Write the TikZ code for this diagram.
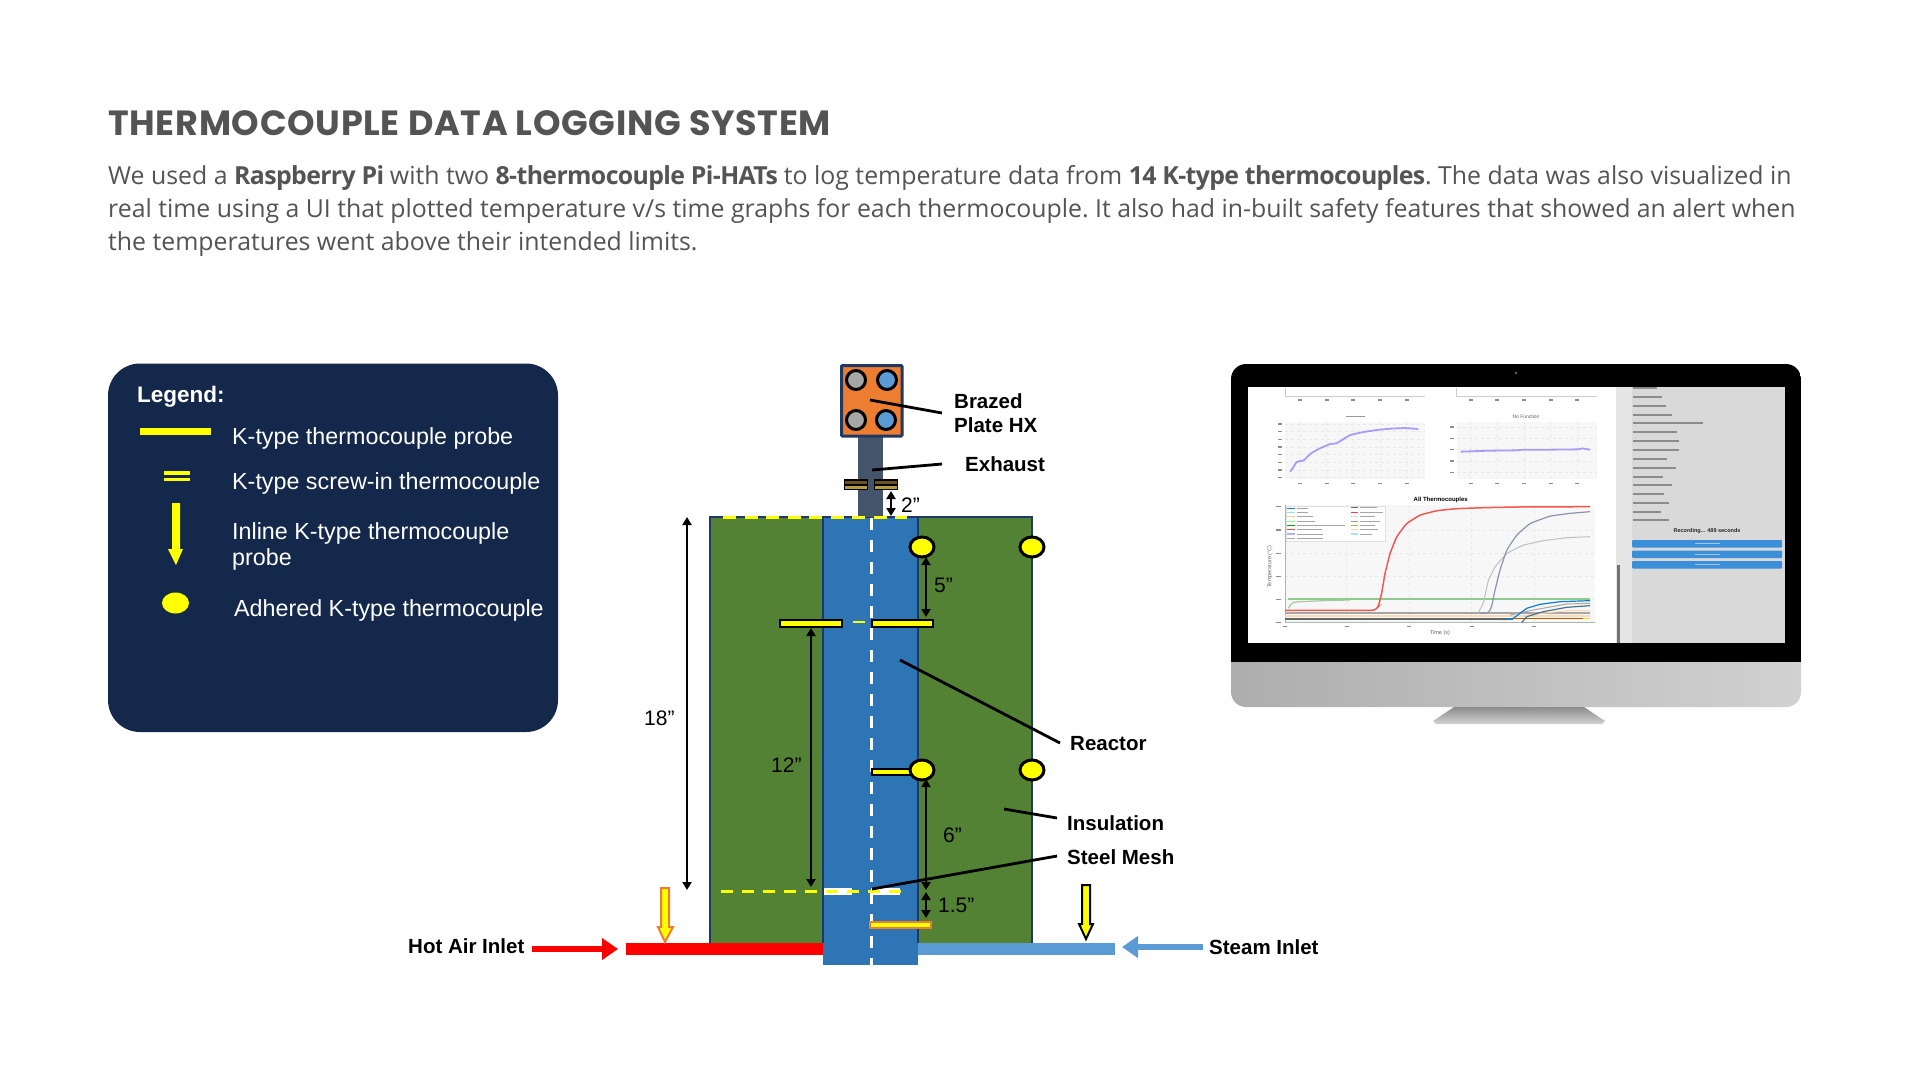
\documentclass[tikz,border=0pt]{standalone}
\usepackage{fontspec}
\usetikzlibrary{arrows.meta}
\setmainfont{Liberation Sans}
\newfontfamily\bodyfont[BoldFeatures={LetterSpace=-2.5}]{Open Sans}
\newfontfamily\titlefont[LetterSpace=2]{Poppins}
\definecolor{ink}{HTML}{545454}
\definecolor{navy}{HTML}{14284B}
\definecolor{rim}{HTML}{1F3864}
\definecolor{insul}{HTML}{548235}
\definecolor{core}{HTML}{2E75B6}
\definecolor{sky}{HTML}{5B9BD5}
\definecolor{hxorange}{HTML}{ED7D31}
\definecolor{stack}{HTML}{44546A}
\definecolor{tcy}{HTML}{FFFF00}
\definecolor{plotline}{HTML}{A89CF5}
\definecolor{btn}{HTML}{3A8FD8}
\definecolor{steelcurve}{HTML}{8F90B4}
\definecolor{redcurve}{HTML}{EE5A52}
\tikzset{
  lbl/.style={anchor=base west,inner sep=0pt,font=\fontsize{20.5}{24}\selectfont\bfseries,text=black},
  dimtext/.style={anchor=base west,inner sep=0pt,font=\fontsize{21}{24}\selectfont,text=black},
  legtext/.style={anchor=base west,inner sep=0pt,font=\fontsize{23.3}{28}\selectfont,text=white},
  bodyline/.style={anchor=base west,inner sep=0pt,font=\bodyfont\frenchspacing\fontsize{24.85}{30}\selectfont,text=ink},
  leader/.style={draw=black,line width=2.8pt},
  dimarrow/.style={draw=black,line width=2.6pt,{Triangle[length=8pt,width=9pt]}-{Triangle[length=8pt,width=9pt]}},
  probe/.style={draw=black,line width=2pt,fill=tcy},
  adhered/.style={draw=black,line width=3pt,fill=tcy},
  port/.style={draw=black,line width=3pt},
  blurtext/.style={draw=black!55,line width=1.7pt,opacity=.75},
  tinytext/.style={inner sep=0pt,text=black!60},
  gridline/.style={draw=black!9,line width=.5pt,dashed},
  ticktext/.style={draw=black!45,line width=1.1pt}
}
\begin{document}
\begin{tikzpicture}[x=1pt,y=-1pt]
\useasboundingbox (0,0) rectangle (1920,1080);
\fill[white] (0,0) rectangle (1920,1080);

% heading
\node[anchor=base west,inner sep=0pt,text=ink,font=\titlefont\bfseries\fontsize{35}{40}\selectfont] (title) at (108,135) {THERMOCOUPLE DATA LOGGING SYSTEM};
\node[bodyline] (b1) at (108,184) {We used a \textbf{Raspberry Pi} with two \textbf{8-thermocouple Pi-HATs} to log temperature data from \textbf{14 K-type thermocouples}. The data was also visualized in};
\node[bodyline] (b2) at (108,217) {real time using a UI that plotted temperature v/s time graphs for each thermocouple. It also had in-built safety features that showed an alert when};
\node[bodyline] (b3) at (108,250) {the temperatures went above their intended limits.};

% legend
\fill[navy,rounded corners=32pt] (108,363.5) rectangle (558,732);
\node[legtext,font=\fontsize{22.5}{26}\selectfont\bfseries] (legh) at (137,402) {Legend:};
\node[legtext] (l1) at (232,444) {K-type thermocouple probe};
\node[legtext] (l2) at (232,489) {K-type screw-in thermocouple};
\node[legtext] (l3) at (232,539) {Inline K-type thermocouple};
\node[legtext] (l3b) at (232,565) {probe};
\node[legtext] (l4) at (234,616) {Adhered K-type thermocouple};
\fill[tcy] (139.5,428) rectangle (211,434.5);
\fill[tcy] (164,470.5) rectangle (190,475);
\fill[tcy] (164,477.5) rectangle (190,481);
\fill[tcy] (172,503) -- (180,503) -- (180,549) -- (183,549) -- (176,565) -- (168,549) -- (172,549) -- cycle;
\fill[tcy] (175.5,603) ellipse [x radius=13.5,y radius=10.5];

% reactor body
\fill[insul] (710,517) rectangle (823,943);
\fill[insul] (918,517) rectangle (1032,943);
\fill[red] (626,943) rectangle (823,955);
\fill[sky] (918,943) rectangle (1115,955);
\fill[core] (823,517) rectangle (918,965);
\draw[rim,line width=2.5pt] (710,943) -- (710,517) -- (1032,517) -- (1032,943);
\draw[rim,line width=2.5pt] (823,517) -- (823,943);
\draw[rim,line width=2.5pt] (918,517) -- (918,943);
\draw[white,line width=3pt,dash pattern=on 12pt off 10pt] (871,518) -- (871,965);

% exhaust and heat exchanger
\fill[stack] (858,437) rectangle (883,517);
\draw[rim,line width=3pt,fill=hxorange,rounded corners=1pt] (841.5,365.5) rectangle (902,436);
\draw[port,fill=black!35] (856,380) circle (9.5);
\draw[port,fill=sky] (887,380) circle (9.5);
\draw[port,fill=black!35] (856,420) circle (9.5);
\draw[port,fill=sky] (886,420) circle (9.5);

% screw-in thermocouples
\definecolor{screwa}{HTML}{6B5320}
\definecolor{screwb}{HTML}{B89B3A}
\foreach \xa/\xb in {845/867,875/897}{
  \fill[black] (\xa-1,479) rectangle (\xb+1,490);
  \fill[screwa] (\xa,480.5) rectangle (\xb,483.5);
  \fill[screwb] (\xa,486) rectangle (\xb,488.5);
}
% top dashed thermocouple line
\draw[tcy,line width=3pt,dash pattern=on 13pt off 8.5pt] (723,517) -- (907,517);

% probes
\draw[probe] (780,619.5) rectangle (842,626.5);
\draw[tcy,line width=2.5pt] (853,622) -- (865,622);
\draw[probe] (871.5,619.5) rectangle (933,626.5);
\draw[probe] (871.5,768.5) rectangle (915,775);
\draw[draw=hxorange,line width=2pt,fill=tcy] (869.5,921.5) rectangle (930.5,927.5);
% steel mesh
\fill[white] (824,888) rectangle (852,895);
\fill[white] (871,888) rectangle (900,895);
\draw[tcy,line width=2.5pt,dash pattern=on 12pt off 9pt] (721,891.5) -- (904,891.5);

% adhered
\draw[adhered] (922,547) ellipse [x radius=12,y radius=10];
\draw[adhered] (1032,547) ellipse [x radius=12,y radius=10];
\draw[adhered] (922,770) ellipse [x radius=12,y radius=10];
\draw[adhered] (1032,770) ellipse [x radius=12,y radius=10];

% inline inlet probes
\draw[draw=hxorange,line width=2pt,fill=tcy] (661,888) -- (669,888) -- (669,927) -- (673,927) -- (665,942) -- (658,927) -- (661,927) -- cycle;
\draw[draw=black,line width=2pt,fill=tcy] (1082,885) -- (1090,885) -- (1090,924) -- (1093,924) -- (1086,939) -- (1079,924) -- (1082,924) -- cycle;

% dimension anchors
\coordinate (d18a) at (687,517);
\coordinate (d18b) at (687,890);
\coordinate (d12a) at (811,628);
\coordinate (d12b) at (811,887);
\coordinate (d5a) at (926,557);
\coordinate (d5b) at (926,617);
\coordinate (d6a) at (926,779);
\coordinate (d6b) at (926,890);
\coordinate (d15a) at (926,892);
\coordinate (d15b) at (926,918);
\coordinate (d2a) at (891,491);
\coordinate (d2b) at (891,516);
\draw[dimarrow] (d18a) -- (d18b);
\draw[dimarrow] (d12a) -- (d12b);
\draw[dimarrow] (d5a) -- (d5b);
\draw[dimarrow] (d6a) -- (d6b);
\draw[dimarrow] (d15a) -- (d15b);
\draw[dimarrow] (d2a) -- (d2b);
\node[dimtext] (t18) at (644,725) {18”};
\node[dimtext] (t12) at (771,772) {12”};
\node[dimtext] (t5) at (934,592) {5”};
\node[dimtext] (t6) at (943,842) {6”};
\node[dimtext] (t15) at (938,912) {1.5”};
\node[dimtext] (t2) at (901,512) {2”};

% labels
\node[lbl] (brazed) at (954,408) {Brazed};
\node[lbl] (plate) at (954,432) {Plate HX};
\node[lbl] (exhaust) at (965,471) {Exhaust};
\node[lbl] (reactor) at (1070,750) {Reactor};
\node[lbl] (insulation) at (1067,830) {Insulation};
\node[lbl] (mesh) at (1067,864) {Steel Mesh};
\node[lbl] (hot) at (408,953) {Hot Air Inlet};
\node[lbl] (steam) at (1209,954) {Steam Inlet};

% leaders
\coordinate (lb0) at (870,400); \coordinate (lb1) at (942,413);
\coordinate (le0) at (872,470); \coordinate (le1) at (942,464);
\coordinate (lr0) at (900,660); \coordinate (lr1) at (1060,743);
\coordinate (li0) at (1004,809); \coordinate (li1) at (1057,818);
\coordinate (lm0) at (872,889); \coordinate (lm1) at (1057,856);
\draw[leader] (lb0) -- (lb1);
\draw[leader] (le0) -- (le1);
\draw[leader] (lr0) -- (lr1);
\draw[leader] (li0) -- (li1);
\draw[leader] (lm0) -- (lm1);

% inlet arrows
\coordinate (ha0) at (532,949); \coordinate (ha1) at (618,949);
\coordinate (sa0) at (1203,947); \coordinate (sa1) at (1122,947);
\draw[red,line width=6pt,-{Triangle[length=16pt,width=21pt]}] (ha0) -- (ha1);
\draw[sky,line width=6pt,-{Triangle[length=16pt,width=21pt]}] (sa0) -- (sa1);

% monitor
\begin{scope}
  \clip[rounded corners=15pt] (1231,364) rectangle (1801,707);
  \fill[black] (1231,364) rectangle (1801,662);
  \shade[left color=black!32,right color=black!18] (1231,662) rectangle (1801,707);
\end{scope}
\fill[black!60] (1516,373) circle (1.3);
\shade[top color=black!45,bottom color=black!18] (1454,707) -- (1584,707) -- (1605,721) -- (1602,724) -- (1436,724) -- (1433,721) -- cycle;
\fill[white] (1248,387) rectangle (1616,643);
\fill[black!10] (1616,387) rectangle (1632,643);
\fill[black!55] (1617,565) rectangle (1619.5,643);
\fill[black!15] (1632,387) rectangle (1784.5,643);

% monitor screen: side panel
\foreach \yy/\xe in {25/110,52/125,78/138,104/155,130/250,157/172,183/178,210/178,236/142,263/168,290/130,316/155,342/132,368/148,395/122,421/148}{
  \draw[blurtext] (1633,{380+\yy/3}) -- ({1620+\xe/3},{380+\yy/3});
}
\node[tinytext,text=black!85,font=\fontsize{5.5}{6}\selectfont\bfseries] (rec) at (1707,531) {Recording... 489 seconds};
\fill[btn,rounded corners=1pt] (1632,540) rectangle (1782,547.5);
\fill[btn,rounded corners=1pt] (1632,550.5) rectangle (1782,558);
\fill[btn,rounded corners=1pt] (1632,561) rectangle (1782,568.5);
\draw[white,opacity=.5,line width=1.3pt] (1695,543.8) -- (1720,543.8) (1695,554.2) -- (1720,554.2) (1695,564.8) -- (1720,564.8);

% monitor screen: plots, in a frame of 1/3 px
\begin{scope}[shift={(1250,380)},x=0.33333pt,y=-0.33333pt]
  % top stubs
  \draw[black!20,line width=.7pt] (105,24) -- (105,48) -- (525,48);
  \draw[black!20,line width=.7pt] (620,24) -- (620,48) -- (1040,48);
  \foreach \xx in {150,230,310,390,470}{\draw[ticktext] (\xx-6,60) -- (\xx+6,60);}
  \foreach \xx in {662,742,822,902,982}{\draw[ticktext] (\xx-6,60) -- (\xx+6,60);}
  % small plots
  \fill[black!3] (105,125) rectangle (525,298);
  \fill[black!3] (620,125) rectangle (1040,298);
  \foreach \xx in {150,230,310,390,470}{\draw[gridline] (\xx,125) -- (\xx,298); \draw[ticktext] (\xx-6,310) -- (\xx+6,310);}
  \foreach \xx in {662,742,822,902,982}{\draw[gridline] (\xx,125) -- (\xx,298); \draw[ticktext] (\xx-6,310) -- (\xx+6,310);}
  \foreach \yy in {132,155,178,201,224,247,270,292}{\draw[gridline] (105,\yy) -- (525,\yy); \draw[ticktext] (84,\yy) -- (96,\yy);}
  \foreach \yy in {141,175,209,243,277}{\draw[gridline] (620,\yy) -- (1040,\yy); \draw[ticktext] (600,\yy) -- (612,\yy);}
  \draw[plotline,line width=1.8pt,rounded corners=1pt] (120,275) -- (128,265) -- (140,245) -- (160,242) -- (180,222) -- (205,207) -- (240,192) -- (260,190) -- (300,165) -- (340,156) -- (380,150) -- (420,146) -- (465,144) -- (505,147);
  \draw[plotline,line width=1.8pt,rounded corners=1pt] (632,215) -- (720,212) -- (800,211) -- (820,209) -- (900,209) -- (985,208) -- (997,205) -- (1020,209);
  \draw[black!40,line width=1.5pt] (288,110) -- (345,110);
  \node[tinytext,font=\fontsize{5}{6}\selectfont] (nofn) at (828,110) {No Function};
  % main plot
  \fill[black!3] (105,375) rectangle (1035,728);
  \foreach \xx in {290,478,665,852}{\draw[gridline] (\xx,375) -- (\xx,728);}
  \foreach \yy in {450,520,590,658}{\draw[gridline] (105,\yy) -- (1035,\yy);}
  \draw[black!30,line width=.7pt] (105,375) -- (105,728) -- (1035,728);
  \node[tinytext,text=black,font=\fontsize{6}{7}\selectfont\bfseries] (allt) at (572,360) {All Thermocouples};
  \node[tinytext,font=\fontsize{5.5}{6}\selectfont] (timeax) at (570,758) {Time (s)};
  \node[tinytext,rotate=90,font=\fontsize{5.5}{6}\selectfont] (tempax) at (60,560) {Temperature (°C)};
  \foreach \xx in {105,290,478,665,852}{\draw[ticktext] (\xx-6,740) -- (\xx+6,740);}
  \foreach \yy in {380,450,520,590,658,728}{\draw[ticktext] (78,\yy) -- (94,\yy);}
  % bands
  \draw[green!55!black!45!white,line width=2.2pt] (115,658) -- (1020,658);
  \draw[green!40!black!35!white,line width=1.2pt,rounded corners=2pt] (115,685) -- (125,668) -- (150,665) -- (220,662) -- (300,660);
  \draw[black!35,line width=2.6pt] (105,699) -- (1020,699);
  \draw[orange!30!white,line width=2pt] (105,708) -- (1020,708);
  \draw[orange!70!black,line width=1.4pt] (105,716) -- (1020,716);
  \draw[yellow!90!black,line width=1.2pt] (1000,716) -- (1020,716);
  \draw[cyan!60!blue,line width=1pt] (105,719) -- (790,719);
  % rising low curves
  \draw[black!35,line width=1pt] (780,705) -- (850,690) -- (950,672) -- (1020,670);
  \draw[orange!30!white,line width=1pt] (830,705) -- (950,692) -- (1020,692);
  \draw[cyan!60!blue,line width=1.2pt] (760,719) -- (790,715) -- (830,685) -- (870,673) -- (930,665) -- (1020,662);
  \draw[cyan!50!black,line width=1.2pt] (815,728) -- (830,710) -- (880,695) -- (950,682) -- (1020,677);
  % high curves
  \draw[black!25,line width=1pt,rounded corners=3pt] (685,698) -- (700,670) -- (715,600) -- (735,560) -- (770,520) -- (820,495) -- (880,482) -- (950,473) -- (1020,470);
  \draw[steelcurve,line width=1.2pt,rounded corners=3pt] (690,700) -- (715,700) -- (725,680) -- (735,630) -- (750,570) -- (770,510) -- (800,465) -- (840,430) -- (900,408) -- (960,400) -- (1020,395);
  \draw[redcurve,line width=1.5pt,rounded corners=3pt] (105,691) -- (375,691) -- (385,680) -- (395,640) -- (405,580) -- (420,520) -- (440,470) -- (470,430) -- (510,405) -- (560,392) -- (620,386) -- (700,383) -- (800,381) -- (1020,380);
  % plot key
  \fill[white] (108,378) rectangle (405,483);
  \draw[black!12,line width=.4pt] (108,378) rectangle (405,483);
  \foreach \yy/\cc/\xe in {385/cyan!60!blue/175,397/cyan!40/175,410/orange!40/190,424/green!45/195,436/green!60!black/285,449/red!75/215,462/blue!30/220,476/black!35/220}{
    \draw[\cc,line width=1.2pt] (112,\yy) -- (135,\yy);
    \draw[black!35,line width=1pt] (140,\yy) -- (\xe,\yy);
  }
  \foreach \yy/\cc/\xe in {383/black!60/380,397/red!75/400,410/black!15/375,424/black!40/390,436/yellow!70!black/375,449/orange!35/385,462/cyan!35/365}{
    \draw[\cc,line width=1.2pt] (302,\yy) -- (325,\yy);
    \draw[black!35,line width=1pt] (330,\yy) -- (\xe,\yy);
  }
\end{scope}
\end{tikzpicture}
\end{document}
